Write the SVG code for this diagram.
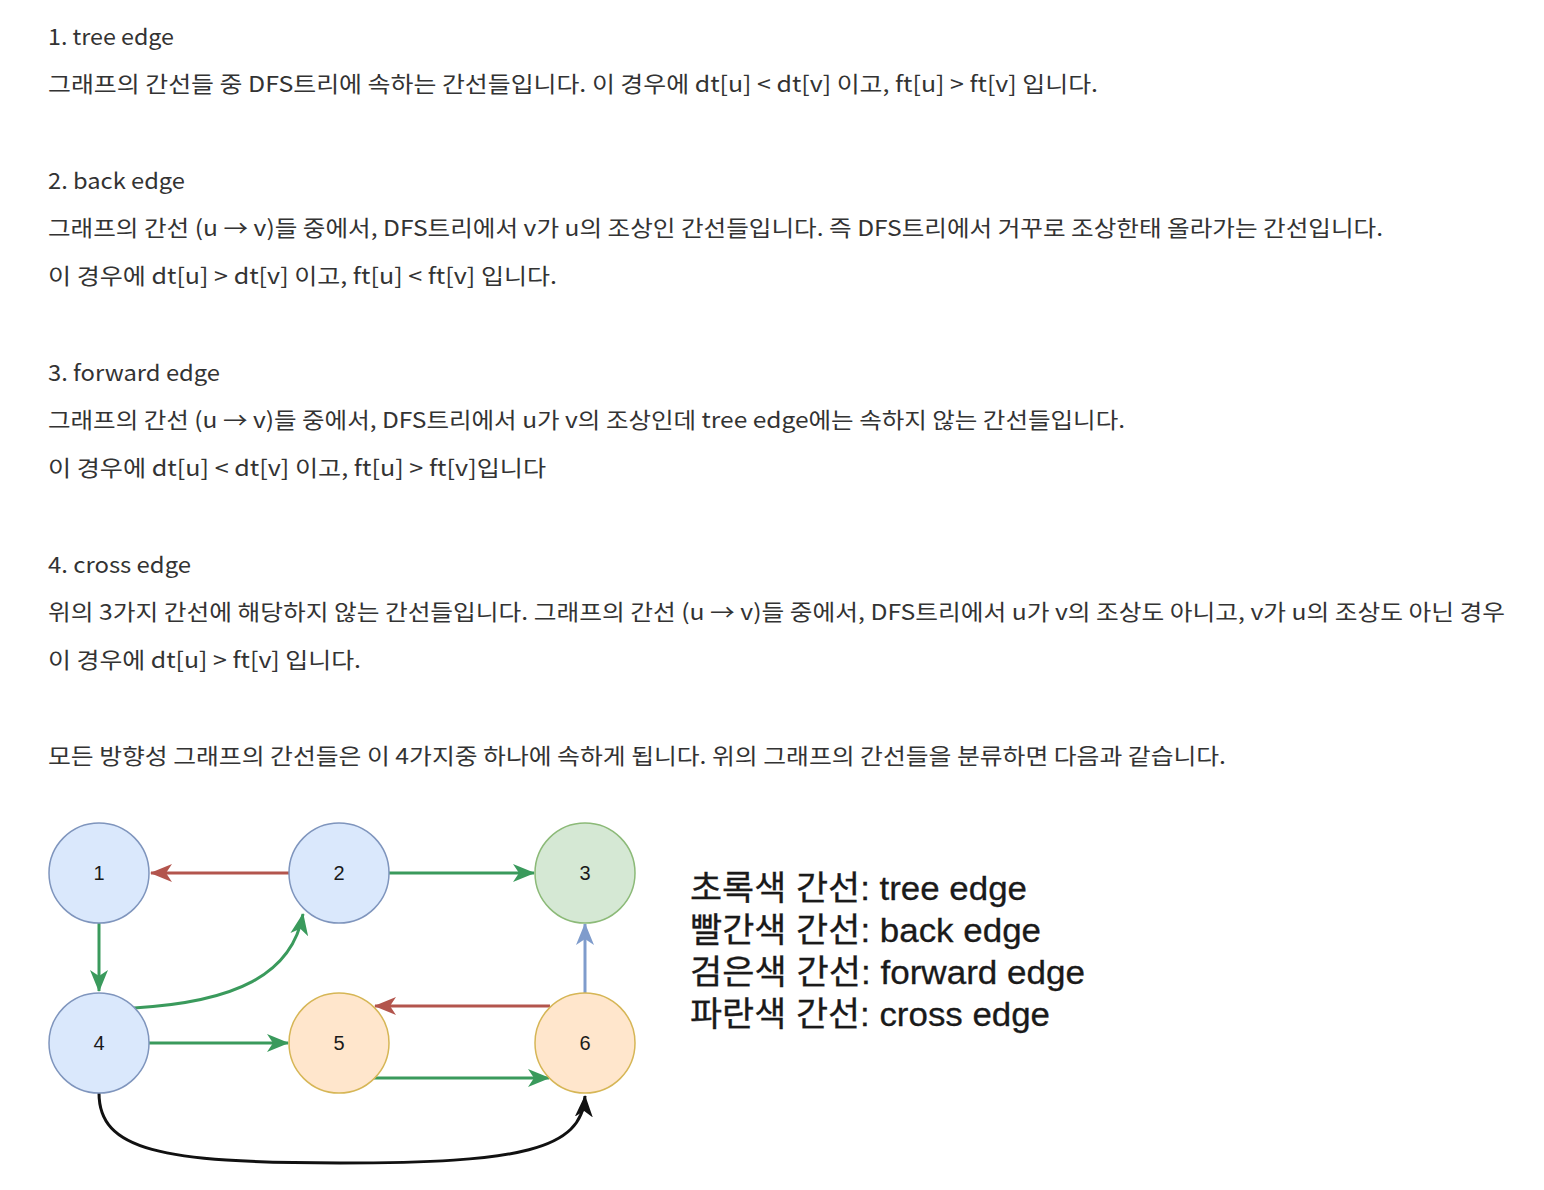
<svg xmlns="http://www.w3.org/2000/svg" width="1544" height="1190" viewBox="0 0 1544 1190">
<style>
.body{font-family:"Noto Sans CJK KR","Noto Sans",sans-serif;font-size:22px;fill:#333333;}
.leg{font-family:"Liberation Sans","Noto Sans CJK KR",sans-serif;font-size:34px;fill:#1a1a1a;stroke:#1a1a1a;stroke-width:0.3;}
.lbl{font-family:"Liberation Sans",Arial,sans-serif;font-size:20px;fill:#1a1a1a;text-anchor:middle;}
.blue{fill:#dae8fc;stroke:#7f95bd;stroke-width:1.5;}
.green{fill:#d5e8d4;stroke:#8cba78;stroke-width:1.5;}
.orange{fill:#ffe6cc;stroke:#d6b656;stroke-width:1.5;}
.e{fill:none;stroke-width:3;}
.eg{stroke:#3a9a5c;}
.er{stroke:#b3554d;}
.eb{stroke:#7f9ccc;}
.ek{stroke:#111111;}
</style>
<defs>
<marker id="ag" viewBox="0 0 22 18" refX="21" refY="9" markerWidth="22" markerHeight="18" markerUnits="userSpaceOnUse" orient="auto"><path d="M0,0 L22,9 L0,18 L6,9 z" fill="#3a9a5c"/></marker>
<marker id="ar" viewBox="0 0 22 18" refX="21" refY="9" markerWidth="22" markerHeight="18" markerUnits="userSpaceOnUse" orient="auto"><path d="M0,0 L22,9 L0,18 L6,9 z" fill="#b3554d"/></marker>
<marker id="ab" viewBox="0 0 22 18" refX="21" refY="9" markerWidth="22" markerHeight="18" markerUnits="userSpaceOnUse" orient="auto"><path d="M0,0 L22,9 L0,18 L6,9 z" fill="#7f9ccc"/></marker>
<marker id="ak" viewBox="0 0 22 18" refX="21" refY="9" markerWidth="22" markerHeight="18" markerUnits="userSpaceOnUse" orient="auto"><path d="M0,0 L22,9 L0,18 L6,9 z" fill="#111111"/></marker>
</defs>
<rect width="1544" height="1190" fill="#ffffff"/>
<g id="body-text">
<text class="body" x="48" y="45" textLength="126" lengthAdjust="spacingAndGlyphs">1. tree edge</text>
<text class="body" x="48" y="92" textLength="1050" lengthAdjust="spacingAndGlyphs">그래프의 간선들 중 DFS트리에 속하는 간선들입니다. 이 경우에 dt[u] &lt; dt[v] 이고, ft[u] &gt; ft[v] 입니다.</text>
<text class="body" x="48" y="189" textLength="137" lengthAdjust="spacingAndGlyphs">2. back edge</text>
<text class="body" x="48" y="236" textLength="1335" lengthAdjust="spacingAndGlyphs">그래프의 간선 (u → v)들 중에서, DFS트리에서 v가 u의 조상인 간선들입니다. 즉 DFS트리에서 거꾸로 조상한태 올라가는 간선입니다.</text>
<text class="body" x="48" y="284" textLength="509" lengthAdjust="spacingAndGlyphs">이 경우에 dt[u] &gt; dt[v] 이고, ft[u] &lt; ft[v] 입니다.</text>
<text class="body" x="48" y="381" textLength="172" lengthAdjust="spacingAndGlyphs">3. forward edge</text>
<text class="body" x="48" y="428" textLength="1077" lengthAdjust="spacingAndGlyphs">그래프의 간선 (u → v)들 중에서, DFS트리에서 u가 v의 조상인데 tree edge에는 속하지 않는 간선들입니다.</text>
<text class="body" x="48" y="476" textLength="498" lengthAdjust="spacingAndGlyphs">이 경우에 dt[u] &lt; dt[v] 이고, ft[u] &gt; ft[v]입니다</text>
<text class="body" x="48" y="573" textLength="143" lengthAdjust="spacingAndGlyphs">4. cross edge</text>
<text class="body" x="48" y="620" textLength="1457" lengthAdjust="spacingAndGlyphs">위의 3가지 간선에 해당하지 않는 간선들입니다. 그래프의 간선 (u → v)들 중에서, DFS트리에서 u가 v의 조상도 아니고, v가 u의 조상도 아닌 경우</text>
<text class="body" x="48" y="668" textLength="313" lengthAdjust="spacingAndGlyphs">이 경우에 dt[u] &gt; ft[v] 입니다.</text>
<text class="body" x="48" y="764" textLength="1178" lengthAdjust="spacingAndGlyphs">모든 방향성 그래프의 간선들은 이 4가지중 하나에 속하게 됩니다. 위의 그래프의 간선들을 분류하면 다음과 같습니다.</text>
</g>
<g id="connectors">
<line class="e er" x1="289" y1="873" x2="151" y2="873" marker-end="url(#ar)"/>
<line class="e eg" x1="389" y1="873" x2="534" y2="873" marker-end="url(#ag)"/>
<line class="e eg" x1="99" y1="923" x2="99" y2="991" marker-end="url(#ag)"/>
<path class="e eg" d="M134,1008 C235,1002 292,975 303,914" marker-end="url(#ag)"/>
<line class="e eg" x1="149" y1="1043" x2="288" y2="1043" marker-end="url(#ag)"/>
<line class="e er" x1="550" y1="1006" x2="375" y2="1006" marker-end="url(#ar)"/>
<line class="e eg" x1="373" y1="1078" x2="549" y2="1078" marker-end="url(#ag)"/>
<line class="e eb" x1="585" y1="993" x2="585" y2="924" marker-end="url(#ab)"/>
<path class="e ek" d="M99,1093 C99,1150 160,1163 340,1163 C520,1163 582,1150 585,1096" marker-end="url(#ak)"/>
</g>
<g id="node-1"><circle class="blue" cx="99" cy="873" r="50"/><text class="lbl" x="99" y="880">1</text></g>
<g id="node-2"><circle class="blue" cx="339" cy="873" r="50"/><text class="lbl" x="339" y="880">2</text></g>
<g id="node-3"><circle class="green" cx="585" cy="873" r="50"/><text class="lbl" x="585" y="880">3</text></g>
<g id="node-4"><circle class="blue" cx="99" cy="1043" r="50"/><text class="lbl" x="99" y="1050">4</text></g>
<g id="node-5"><circle class="orange" cx="339" cy="1043" r="50"/><text class="lbl" x="339" y="1050">5</text></g>
<g id="node-6"><circle class="orange" cx="585" cy="1043" r="50"/><text class="lbl" x="585" y="1050">6</text></g>
<g id="legend">
<text class="leg" x="690" y="900" textLength="337" lengthAdjust="spacingAndGlyphs">초록색 간선: tree edge</text>
<text class="leg" x="690" y="942" textLength="351" lengthAdjust="spacingAndGlyphs">빨간색 간선: back edge</text>
<text class="leg" x="690" y="984" textLength="395" lengthAdjust="spacingAndGlyphs">검은색 간선: forward edge</text>
<text class="leg" x="690" y="1026" textLength="360" lengthAdjust="spacingAndGlyphs">파란색 간선: cross edge</text>
</g>
</svg>
